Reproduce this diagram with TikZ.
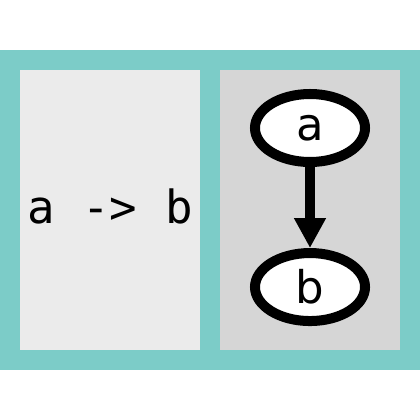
\documentclass[tikz,border=0pt]{standalone}
\usepackage{fontspec}
\setmainfont{DejaVu Sans}
\newfontfamily\codefont{DejaVu Sans Mono}
\usetikzlibrary{positioning, shapes.geometric, arrows.meta}
\definecolor{frameteal}{RGB}{124,204,200}
\definecolor{srcgray}{RGB}{235,235,235}
\definecolor{viewgray}{RGB}{214,214,214}
\tikzset{
  panel/.style = {inner sep = 0, outer sep = 0, minimum width = 4.5cm, minimum height = 7cm},
  gnode/.style = {ellipse, draw = black, fill = white, line width = 0.25cm, inner sep = 0,
    minimum width = 2.75cm, minimum height = 1.7cm, font = \fontsize{32}{38}\selectfont},
  gedge/.style = {line width = 0.25cm, -{Triangle[length = 0.75cm, width = 0.75cm]}}
}

\begin{document}
\begin{tikzpicture}[x = 0.025cm, y = -0.025cm]
  \useasboundingbox (0,0) rectangle (420,420);
  \fill[white] (0,0) rectangle (420,420);
  \fill[frameteal] (0,50) rectangle (420,370);
  % source pane and rendered pane
  \node[panel, fill = srcgray] (source) at (110,210) {};
  \node[panel, fill = viewgray, right = 0.5cm of source] (view) {};
  \node[anchor = base, inner sep = 0, font = \codefont\fontsize{32.5}{38}\selectfont]
    (code) at (110,223) {a\ ->\ b};
  % the graph
  \node[gnode] (a) at (310,128) {a};
  \node[gnode, below = 2.025cm of a] (b) {b};
  \draw[gedge] (a) -- (b);
\end{tikzpicture}
\end{document}
